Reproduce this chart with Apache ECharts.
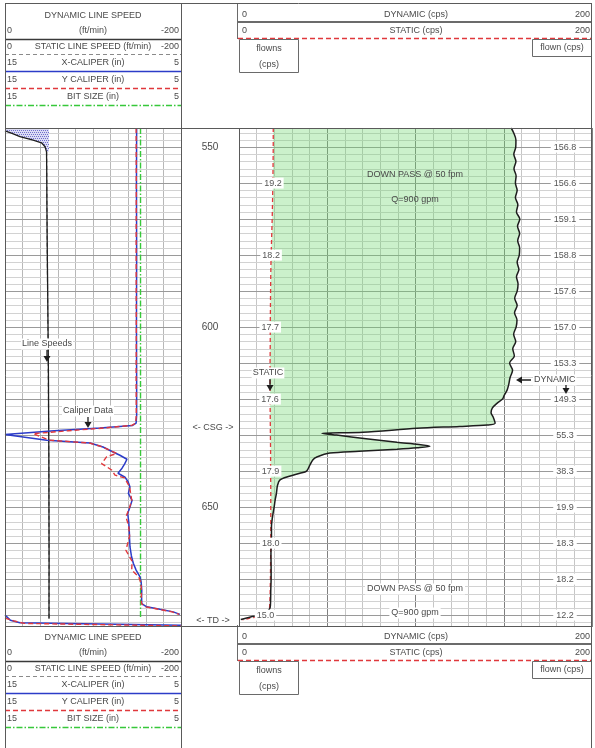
<!DOCTYPE html>
<html>
<head>
<meta charset="utf-8">
<script src="https://cdn.jsdelivr.net/npm/echarts@6/dist/echarts.min.js"></script>
<style>
  html, body { margin: 0; padding: 0; background: #fff; }
  #log { width: 595px; height: 748px; }
</style>
</head>
<body>
<div id="log"></div>
<script>
// ---------------- depth index (ft) ----------------
const depthTop = 544.7;
const depthBottom = 683.3;
const depthMarks = [550, 600, 650];
const eventDepths = [627.8, 681.4];
const eventNames = ['<- CSG ->', '<- TD ->'];

// ---------------- track 1 : line speeds (ft/min) ----------------
const lsDepth = [545.5, 546.2, 547.1, 548.1, 548.8, 549.9, 551.3, 556, 565, 575, 585, 595, 605, 615, 625, 635, 645, 655, 665, 675, 681.0];
const lineSpeedDynamic = [0, -8, -17, -32, -41.5, -45.5, -47.2, -47.4, -47.6, -47.9, -48.3, -48.7, -49.1, -49.4, -49.6, -49.8, -49.9, -50.0, -50.1, -50.0, -50.0];
const lssDepth = [551.3, 580, 610, 640, 681.0];
const lineSpeedStatic = [-47.3, -48.0, -49.1, -49.9, -50.1];
const passSpeed = -50;
const slowStartEnd = 551.3;

// ---------------- track 1 : calipers and bit size (in) ----------------
const xCalDepth = [544.7, 560, 580, 600, 615, 624.5, 626.7, 627.3, 628.0, 628.8, 629.8, 631.4, 632.2, 633.3, 634.7, 635.6, 636.7, 638.0, 639.2, 640.6, 641.7, 643.0, 644.4, 646.2, 648.1, 650.0, 651.8, 654.0, 656.4, 659.0, 661.0, 663.5, 665.6, 667.5, 669.4, 671.0, 673.1, 675.0, 676.8, 677.7, 678.4, 679.1, 679.8, 679.9, 680.0, 681.4, 682.1, 682.8];
const xCaliper  = [7.52, 7.53, 7.52, 7.53, 7.52, 7.52, 7.55, 7.75, 9.6, 12.2, 15.0, 12.63, 10.17, 9.43, 8.86, 8.47, 8.07, 8.2, 8.35, 8.58, 8.18, 8.0, 7.9, 7.99, 7.78, 7.9, 8.03, 7.97, 7.94, 7.92, 7.9, 7.82, 7.71, 7.55, 7.33, 7.26, 7.23, 7.24, 7.23, 6.95, 6.2, 5.44, 5.06, null, 15.0, 14.7, 14.15, 5.0];
const yCalDepth = [544.7, 560, 580, 600, 615, 624.5, 626.7, 627.3, 628.0, 628.8, 629.6, 631.4, 632.2, 633.3, 634.5, 635.1, 636.0, 637.9, 639.7, 641.1, 641.9, 644.4, 648.1, 650.5, 652.7, 655.0, 658.0, 662.0, 665.0, 667.5, 669.4, 671.0, 673.1, 676.8, 677.7, 678.4, 679.1, 679.8, 680.2, 680.8, 681.6, 682.3, 683.0];
const yCaliper  = [7.55, 7.54, 7.55, 7.54, 7.55, 7.54, 7.58, 7.8, 9.3, 11.4, 13.4, 12.5, 10.2, 9.45, 8.92, 8.65, 9.22, 9.51, 8.94, 8.75, 8.2, 7.92, 7.8, 7.95, 8.13, 7.98, 7.92, 8.13, 7.78, 7.8, 7.4, 7.28, 7.25, 7.25, 6.98, 6.25, 5.5, 5.1, null, 15.0, 14.5, 13.9, 5.0];
const bitDepth = [544.7, 681.0];
const bitSize = [7.3, 7.3];

// ---------------- track 2 : flowmeter counts (cps) ----------------
const dynDepth = [544.7, 546, 548, 550, 552, 554, 556, 558, 560, 562, 564, 566, 568, 570, 572, 574, 576, 578,
  580, 582, 584, 586, 588, 590, 592, 594, 596, 598, 600, 602, 604, 606, 608, 610, 612, 614, 616,
  617.5, 619, 620, 621.1, 622.5, 623.8, 625, 626.7, 627.2, 627.6, 628.1, 629.2, 629.5, 630, 631, 632,
  632.6, 633.1, 633.5, 633.9, 634.5, 635, 636.1, 636.9, 638.3, 640, 640.6, 641.5, 642.5, 644, 646.2,
  648, 650, 652, 655.5, 658, 660, 663, 667, 670, 673, 676, 678, 679, 680, 680.5, 681.2];
const dynamicCps = [154.2, 155.6, 156.9, 156.8, 155.7, 156.9, 155.8, 157.0, 156.6, 157.6, 156.6, 158.0, 157.2, 159.1, 157.8, 159.0, 157.9, 159.0,
  158.8, 157.6, 158.6, 157.2, 158.1, 157.6, 156.2, 157.6, 156.1, 157.5, 157.0, 155.6, 156.8, 155.1, 156.0, 153.3, 155.0, 153.6, 152.8,
  151.9, 150.2, 149.3, 146.3, 143.5, 142.8, 144.0, 145.1, 140.6, 125.0, 100.8, 70.2, 47.0, 55.3, 72.0, 89.5,
  102.0, 108.2, 101.0, 89.5, 68.0, 51.5, 44.1, 41.8, 40.2, 38.3, 34.5, 28.0, 23.1, 21.8, 21.2,
  20.5, 19.9, 19.2, 18.4, 18.4, 18.3, 18.1, 18.2, 18.2, 18.0, 17.9, 17.6, 16.0, 12.2, 6.5, 1.0];
const staDepth = [544.7, 550, 555, 560, 565, 570, 575, 580, 585, 590, 595, 600, 605, 610, 615, 620, 625, 630, 635, 640, 645, 650, 655, 660, 665, 670, 675, 678, 679.3, 680, 680.6, 681.3];
const staticCps = [19.4, 19.4, 19.3, 19.2, 19.0, 18.8, 18.5, 18.2, 18.0, 17.9, 17.8, 17.7, 17.7, 17.6, 17.6, 17.6, 17.7, 17.8, 17.9, 17.9, 18.0, 18.0, 18.0, 18.0, 17.9, 17.8, 17.6, 17.3, 16.5, 15.0, 9.0, 2.0];
const dynLabelDepths = [550, 560, 570, 580, 590, 600, 610, 620, 630, 640, 650, 660, 670, 680];
const staLabelDepths = [560, 580, 600, 620, 640, 660, 680];
const fillBottomDepth = 675;

// ---------------- styling ----------------
const FONT = '"Liberation Sans", Arial, sans-serif';
const TXT = '#4a4a4a';
const BLUE = '#2c3cc8';
const RED = '#e0383c';
const GREEN = '#37c83a';
const INK = '#1e1e1e';
const FRAME = '#5a5a5a';

const pairs = (depths, vals) => depths.map((d, i) => [vals[i], d]);
const lookup = (depths, vals, d) => vals[depths.indexOf(d)];

function hatchPattern() {
  const c = document.createElement('canvas');
  c.width = 4; c.height = 4;
  const ctx = c.getContext('2d');
  ctx.fillStyle = '#dcdcf4';
  ctx.fillRect(0, 0, 4, 4);
  ctx.fillStyle = '#6f6fcc';
  ctx.fillRect(0, 0, 1, 1);
  ctx.fillRect(2, 0, 1, 1);
  ctx.fillRect(1, 2, 1, 1);
  ctx.fillRect(3, 2, 1, 1);
  return c;
}

// horizontal depth grid: light line every 2 ft, darker every 10 ft
const depthGridLines = [];
for (let d = Math.ceil(depthTop / 2) * 2; d <= depthBottom; d += 2) {
  depthGridLines.push([d, d % 10 === 0 ? 1 : 0]);
}
function depthGridSeries(xIdx, yIdx, xRef) {
  return {
    type: 'custom', xAxisIndex: xIdx, yAxisIndex: yIdx, z: 1, silent: true,
    data: depthGridLines.map(g => [xRef, g[0], g[1]]),
    renderItem(params, api) {
      const cs = params.coordSys;
      const y = Math.round(api.coord([api.value(0), api.value(1)])[1]) + 0.5;
      const major = api.value(2) === 1;
      return { type: 'line', silent: true,
        shape: { x1: cs.x, y1: y, x2: cs.x + cs.width, y2: y },
        style: { stroke: major ? '#9a9a9a' : '#d2d2d2', lineWidth: 1 } };
    }
  };
}

// ---------------- graphic helpers ----------------
function T(x, y, text, align, extra) {
  return { type: 'text', x: x, y: y, z: 100, silent: true,
    style: Object.assign({ text: text, fill: TXT, font: '9px ' + FONT,
      align: align || 'center', verticalAlign: 'middle',
      textAlign: align || 'center', textVerticalAlign: 'middle' }, extra || {}) };
}
function L(x1, y1, x2, y2, stroke, w, dash) {
  return { type: 'line', z: 100, silent: true, shape: { x1, y1, x2, y2 },
    style: { stroke: stroke, lineWidth: w || 1, lineDash: dash || null } };
}
function R(x, y, w, h) {
  return { type: 'rect', z: 100, silent: true, shape: { x, y, width: w, height: h },
    style: { fill: '#fff', stroke: '#6a6a6a', lineWidth: 1 } };
}
function arrowDown(x, y1, y2) {
  return [L(x, y1, x, y2 - 4, INK, 1.3),
    { type: 'polygon', z: 100, silent: true, shape: { points: [[x - 3.5, y2 - 6], [x + 3.5, y2 - 6], [x, y2]] }, style: { fill: INK } }];
}
function arrowLeft(x1, x2, y) {
  return [L(x1, y, x2 + 4, y, INK, 1.5),
    { type: 'polygon', z: 100, silent: true, shape: { points: [[x2 + 6, y - 3.5], [x2 + 6, y + 3.5], [x2, y]] }, style: { fill: INK } }];
}

// legend panel (drawn above and below the tracks)
function legendPanel(oy) {
  const g = [];
  const row = (y, l, c, r) => {
    if (l) g.push(T(7, oy + y, l, 'left'));
    g.push(T(93, oy + y, c, 'center'));
    if (r) g.push(T(179, oy + y, r, 'right'));
  };
  row(16, null, 'DYNAMIC LINE SPEED', null);
  row(31, '0', '(ft/min)', '-200');
  g.push(L(5, oy + 39.5, 181, oy + 39.5, '#3a3a3a', 1.5));
  row(47, '0', 'STATIC LINE SPEED (ft/min)', '-200');
  g.push(L(5, oy + 54.5, 181, oy + 54.5, '#8a8a8a', 1.2, [4, 3]));
  row(63, '15', 'X-CALIPER (in)', '5');
  g.push(L(5, oy + 71.5, 181, oy + 71.5, BLUE, 1.5));
  row(80, '15', 'Y CALIPER (in)', '5');
  g.push(L(5, oy + 88.5, 181, oy + 88.5, RED, 1.5, [5, 3]));
  row(97, '15', 'BIT SIZE (in)', '5');
  g.push(L(5, oy + 105.5, 181, oy + 105.5, GREEN, 1.4, [6, 2, 1.5, 2]));

  g.push(T(242, oy + 15, '0', 'left'));
  g.push(T(416, oy + 15, 'DYNAMIC (cps)'));
  g.push(T(590, oy + 15, '200', 'right'));
  g.push(L(238, oy + 22, 592, oy + 22, '#3a3a3a', 1.5));
  g.push(T(242, oy + 31, '0', 'left'));
  g.push(T(416, oy + 31, 'STATIC (cps)'));
  g.push(T(590, oy + 31, '200', 'right'));
  g.push(L(238, oy + 38.5, 592, oy + 38.5, RED, 1.3, [5, 3]));
  g.push(R(239.5, oy + 39.5, 59, 33));
  g.push(T(269, oy + 49, 'flowns'));
  g.push(T(269, oy + 65, '(cps)'));
  g.push(R(532.5, oy + 39.5, 59, 17));
  g.push(T(562, oy + 48, 'flown (cps)'));
  g.push(L(237.5, oy + 3, 237.5, oy + 39, '#6a6a6a', 1));
  return g;
}

const frame = [
  L(5, 3.5, 592, 3.5, FRAME, 1),
  L(5.5, 3, 5.5, 748, FRAME, 1),
  L(591.5, 3, 591.5, 748, FRAME, 1),
  L(181.5, 3, 181.5, 748, FRAME, 1),
  L(239.5, 128, 239.5, 627, FRAME, 1),
  L(5, 128.5, 592, 128.5, FRAME, 1.2),
  L(5, 626.5, 592, 626.5, FRAME, 1.2)
];

const notes = [
  T(47, 344, 'Line Speeds', 'center', { backgroundColor: '#fff', padding: [1, 1] }),
  ...arrowDown(47, 350, 362),
  T(88, 411, 'Caliper Data', 'center', { backgroundColor: '#fff', padding: [1, 1] }),
  ...arrowDown(88, 417, 428),
  T(268, 373, 'STATIC', 'center', { backgroundColor: '#fff', padding: [1, 1] }),
  ...arrowDown(270, 379, 391),
  ...arrowLeft(531, 516, 380),
  T(533, 380, 'DYNAMIC', 'left', { backgroundColor: '#fff', padding: [1, 1] }),
  ...arrowDown(566, 385, 394),
  T(415, 175, 'DOWN PASS @ 50 fpm'),
  T(415, 200, 'Q=900 gpm'),
  T(415, 589, 'DOWN PASS @ 50 fpm', 'center', { backgroundColor: '#fff', padding: [1, 2] }),
  T(415, 613, 'Q=900 gpm', 'center', { backgroundColor: '#fff', padding: [1, 2] })
];

// ---------------- chart ----------------
const hidden = { axisLine: { show: false }, axisTick: { show: false }, axisLabel: { show: false } };
const depthAxis = gi => ({ gridIndex: gi, type: 'value', min: depthTop, max: depthBottom, inverse: true, show: false });

const chart = echarts.init(document.getElementById('log'), null, { renderer: 'canvas' });
chart.setOption({
  animation: false,
  backgroundColor: '#fff',
  grid: [
    { left: 5, top: 128, width: 176, height: 499 },
    { left: 181, top: 128, width: 58, height: 499 },
    { left: 239, top: 128, width: 353, height: 499 }
  ],
  xAxis: [
    Object.assign({ gridIndex: 0, type: 'value', min: 5, max: 15, interval: 1, inverse: true,
      splitLine: { show: true, lineStyle: { color: '#b8b8b8', width: 1 } } }, hidden),
    Object.assign({ gridIndex: 0, type: 'value', min: -200, max: 0, inverse: true,
      splitLine: { show: false } }, hidden),
    { gridIndex: 1, type: 'value', min: 0, max: 1, show: false },
    Object.assign({ gridIndex: 2, type: 'value', min: 0, max: 200, interval: 10,
      splitLine: { show: true, lineStyle: { color: '#c6c6c6', width: 1 } } }, hidden),
    Object.assign({ gridIndex: 2, type: 'value', min: 0, max: 200, interval: 50,
      splitLine: { show: true, lineStyle: { color: '#808080', width: 1 } } }, hidden)
  ],
  yAxis: [depthAxis(0), depthAxis(1), depthAxis(2)],
  graphic: { elements: [...legendPanel(0), ...legendPanel(622), ...frame, ...notes] },
  series: [
    depthGridSeries(0, 0, 10),
    depthGridSeries(3, 2, 100),

    // slow-start shading between line speed and the pass speed
    {
      type: 'custom', xAxisIndex: 1, yAxisIndex: 0, z: 2, silent: true,
      data: [[0, depthTop]],
      renderItem(params, api) {
        const pts = [api.coord([0, depthTop]), api.coord([passSpeed, depthTop]), api.coord([passSpeed, slowStartEnd])];
        const curve = [];
        for (let i = 0; i < lsDepth.length && lsDepth[i] <= slowStartEnd; i++) {
          curve.push(api.coord([lineSpeedDynamic[i], lsDepth[i]]));
        }
        return { type: 'polygon', shape: { points: pts.concat(curve.reverse()) },
          style: { fill: { image: hatchPattern(), repeat: 'repeat' } } };
      }
    },
    { name: 'STATIC LINE SPEED', type: 'line', xAxisIndex: 1, yAxisIndex: 0, z: 3, symbol: 'none',
      data: pairs(lssDepth, lineSpeedStatic), lineStyle: { color: '#6a6a6a', width: 1.2, type: [4, 3] } },
    { name: 'DYNAMIC LINE SPEED', type: 'line', xAxisIndex: 1, yAxisIndex: 0, z: 3, symbol: 'none',
      data: pairs(lsDepth, lineSpeedDynamic), lineStyle: { color: INK, width: 1.3 } },
    { name: 'BIT SIZE', type: 'line', xAxisIndex: 0, yAxisIndex: 0, z: 3, symbol: 'none',
      data: pairs(bitDepth, bitSize), lineStyle: { color: GREEN, width: 1.4, type: [6, 2, 1.5, 2] } },
    { name: 'X-CALIPER', type: 'line', xAxisIndex: 0, yAxisIndex: 0, z: 3, symbol: 'none', connectNulls: false,
      data: pairs(xCalDepth, xCaliper), lineStyle: { color: BLUE, width: 1.5 } },
    { name: 'Y CALIPER', type: 'line', xAxisIndex: 0, yAxisIndex: 0, z: 4, symbol: 'none', connectNulls: false,
      data: pairs(yCalDepth, yCaliper), lineStyle: { color: RED, width: 1.4, type: [5, 3] } },

    // depth column
    {
      type: 'custom', xAxisIndex: 2, yAxisIndex: 1, z: 5, silent: true,
      data: depthMarks.map(d => [0.5, d]),
      renderItem(params, api) {
        const cs = params.coordSys;
        const y = api.coord([api.value(0), api.value(1)])[1];
        return { type: 'text', x: cs.x + cs.width / 2, y: y,
          style: { text: String(api.value(1)), fill: TXT, font: '10px ' + FONT, align: 'center', verticalAlign: 'middle' } };
      }
    },
    {
      type: 'custom', xAxisIndex: 2, yAxisIndex: 1, z: 5, silent: true,
      data: eventDepths.map((d, i) => [0.5, d, i]),
      renderItem(params, api) {
        const cs = params.coordSys;
        const y = api.coord([api.value(0), api.value(1)])[1];
        return { type: 'text', x: cs.x + cs.width / 2 + 3, y: y,
          style: { text: eventNames[api.value(2)], fill: TXT, font: '9px ' + FONT, align: 'center', verticalAlign: 'middle' } };
      }
    },

    // flow shading between static and dynamic counts
    {
      type: 'custom', xAxisIndex: 3, yAxisIndex: 2, z: 2, silent: true,
      data: [[0, depthTop]],
      renderItem(params, api) {
        const pts = [];
        dynDepth.forEach((d, i) => { if (d <= fillBottomDepth) pts.push(api.coord([dynamicCps[i], d])); });
        for (let i = staDepth.length - 1; i >= 0; i--) {
          if (staDepth[i] <= fillBottomDepth) pts.push(api.coord([staticCps[i], staDepth[i]]));
        }
        return { type: 'polygon', shape: { points: pts, smooth: 0 }, style: { fill: 'rgba(110,215,110,0.36)' } };
      }
    },
    { name: 'STATIC', type: 'line', xAxisIndex: 3, yAxisIndex: 2, z: 3, symbol: 'none',
      data: pairs(staDepth, staticCps), lineStyle: { color: RED, width: 1.3, type: [4, 3] } },
    { name: 'DYNAMIC', type: 'line', xAxisIndex: 3, yAxisIndex: 2, z: 3, symbol: 'none', smooth: 0.3,
      data: pairs(dynDepth, dynamicCps), lineStyle: { color: INK, width: 1.5 } },

    // static readouts on the curve
    {
      type: 'custom', xAxisIndex: 3, yAxisIndex: 2, z: 6, silent: true,
      data: staLabelDepths.map(d => [lookup(staDepth, staticCps, d), d]),
      renderItem(params, api) {
        const p = api.coord([api.value(0), api.value(1)]);
        return { type: 'text', x: p[0], y: p[1],
          style: { text: api.value(0).toFixed(1), fill: '#555', font: '9px ' + FONT, align: 'center', verticalAlign: 'middle',
            backgroundColor: '#fff', padding: [1, 2] } };
      }
    },
    // dynamic readouts in the right-hand column
    {
      type: 'custom', xAxisIndex: 3, yAxisIndex: 2, z: 6, silent: true,
      data: dynLabelDepths.map(d => [lookup(dynDepth, dynamicCps, d), d]),
      renderItem(params, api) {
        const cs = params.coordSys;
        const y = api.coord([api.value(0), api.value(1)])[1];
        return { type: 'text', x: cs.x + cs.width - 27, y: y,
          style: { text: api.value(0).toFixed(1), fill: '#555', font: '9px ' + FONT, align: 'center', verticalAlign: 'middle',
            backgroundColor: '#fff', padding: [1, 3] } };
      }
    }
  ]
});
</script>
</body>
</html>
